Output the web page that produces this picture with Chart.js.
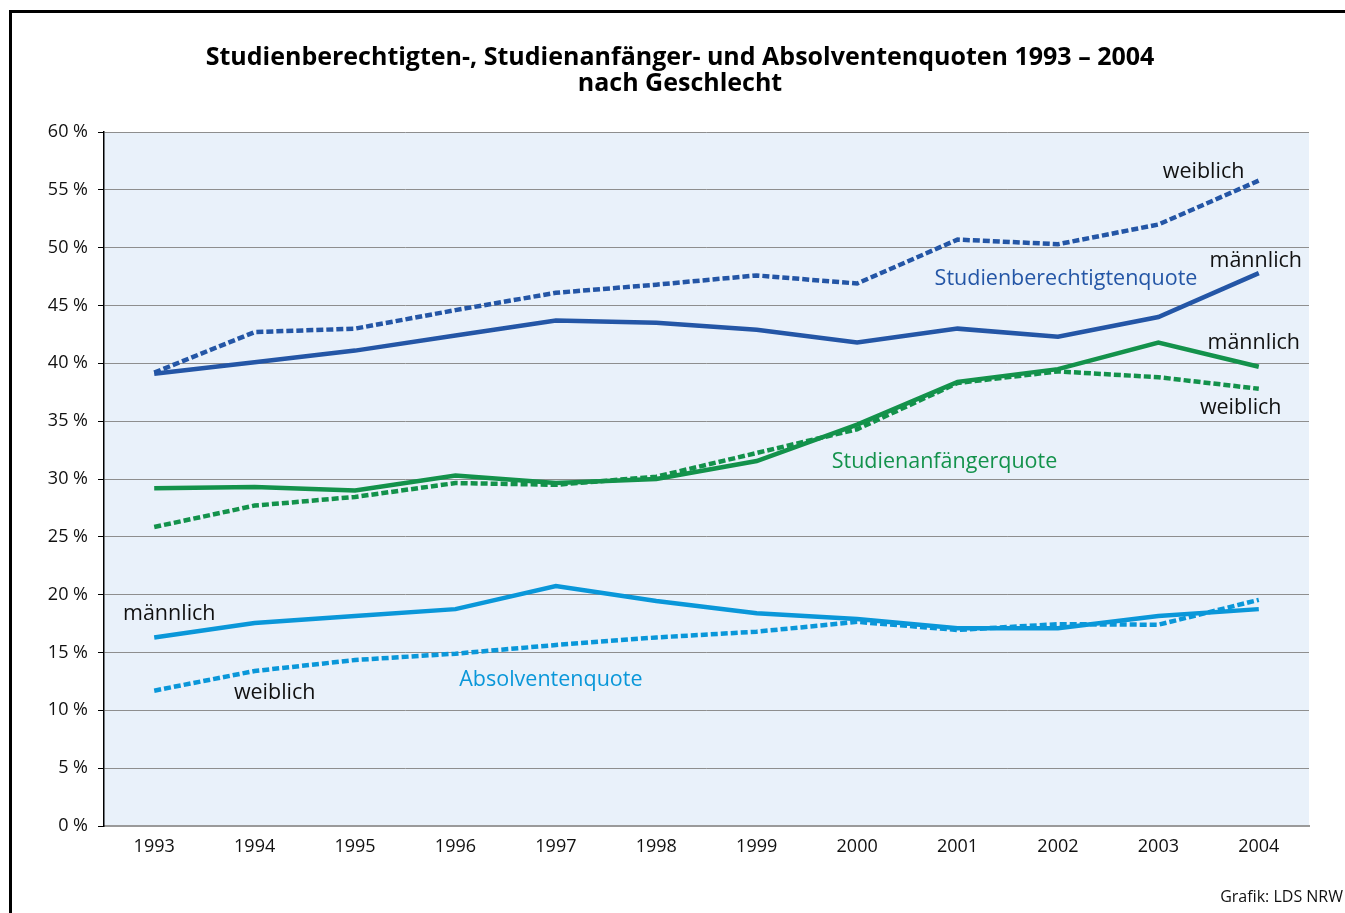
<!DOCTYPE html>
<html>
<head>
<meta charset="utf-8">
<script src="https://cdn.jsdelivr.net/npm/chart.js@4/dist/chart.umd.min.js"></script>
<style>
  html, body { margin: 0; padding: 0; background: #fff; }
  #wrap { position: relative; width: 1345px; height: 913px; }
</style>
</head>
<body>
<div id="wrap"><canvas id="chart" width="1345" height="913"></canvas></div>
<script>
const years = ['1993', '1994', '1995', '1996', '1997', '1998', '1999', '2000', '2001', '2002', '2003', '2004'];

// Studienberechtigtenquote
const berechtigtWeiblich = [39.2, 42.7, 43.0, 44.6, 46.1, 46.8, 47.6, 46.9, 50.7, 50.3, 52.0, 55.8];
const berechtigtMaennlich = [39.1, 40.1, 41.1, 42.4, 43.7, 43.5, 42.9, 41.8, 43.0, 42.3, 44.0, 47.8];

// Studienanfängerquote
const anfaengerMaennlich = [29.2, 29.3, 29.0, 30.3, 29.65, 30.0, 31.55, 34.7, 38.4, 39.5, 41.8, 39.7];
const anfaengerWeiblich = [25.85, 27.7, 28.45, 29.65, 29.5, 30.2, 32.25, 34.3, 38.3, 39.3, 38.8, 37.8];

// Absolventenquote
const absolventMaennlich = [16.3, 17.55, 18.15, 18.75, 20.75, 19.45, 18.4, 17.9, 17.1, 17.1, 18.15, 18.75];
const absolventWeiblich = [11.7, 13.4, 14.35, 14.9, 15.65, 16.3, 16.8, 17.65, 16.95, 17.45, 17.4, 19.55];

const DARK = '#2456a6';
const GREEN = '#13924b';
const LIGHT = '#0a97d9';
const FONT = '"Open Sans", "Noto Sans", sans-serif';

// text labels inside the plot (x = category index, y = value)
const plotLabels = [
    { text: 'weiblich', x: 10.45, y: 56.55, color: '#111' },
    { text: 'Studienberechtigtenquote', x: 9.08, y: 47.3, color: DARK },
    { text: 'männlich', x: 10.97, y: 48.85, color: '#111' },
    { text: 'männlich', x: 10.95, y: 41.75, color: '#111' },
    { text: 'weiblich', x: 10.82, y: 36.15, color: '#111' },
    { text: 'Studienanfängerquote', x: 7.87, y: 31.45, color: GREEN },
    { text: 'männlich', x: 0.15, y: 18.35, color: '#111' },
    { text: 'weiblich', x: 1.2, y: 11.5, color: '#111' },
    { text: 'Absolventenquote', x: 3.95, y: 12.6, color: LIGHT },
];

function line(label, data, color, dashed) {
    return {
        label: label,
        data: data,
        borderColor: color,
        backgroundColor: color,
        borderWidth: 4.5,
        borderDash: dashed ? [7, 3] : [],
        pointRadius: 0,
        tension: 0,
        fill: false
    };
}

const decor = {
    id: 'decor',
    beforeDraw(chart) {
        const { ctx, chartArea: a } = chart;
        ctx.save();
        ctx.fillStyle = '#e9f1fa';
        ctx.fillRect(a.left, a.top, a.right - a.left, a.bottom - a.top);
        ctx.restore();
    },
    afterDraw(chart) {
        const { ctx, scales: { x, y } } = chart;
        ctx.save();
        // frame
        ctx.strokeStyle = '#000';
        ctx.lineWidth = 3;
        ctx.strokeRect(10.5, 11.5, 1400, 1000);

        // title
        ctx.fillStyle = '#000';
        ctx.textAlign = 'center';
        ctx.textBaseline = 'middle';
        ctx.font = 'bold 25px ' + FONT;
        ctx.fillText('Studienberechtigten-, Studienanfänger- und Absolventenquoten 1993 – 2004', 680, 58);
        ctx.fillText('nach Geschlecht', 680, 84);

        // labels on the lines
        ctx.font = '21.5px ' + FONT;
        plotLabels.forEach(l => {
            ctx.fillStyle = l.color;
            ctx.fillText(l.text, x.getPixelForValue(l.x), y.getPixelForValue(l.y));
        });

        // source
        ctx.fillStyle = '#111';
        ctx.textAlign = 'right';
        ctx.font = '16px ' + FONT;
        ctx.fillText('Grafik: LDS NRW', 1343, 897);
        ctx.restore();
    }
};

new Chart(document.getElementById('chart'), {
    type: 'line',
    data: {
        labels: years,
        datasets: [
            line('Absolventenquote männlich', absolventMaennlich, LIGHT, false),
            line('Absolventenquote weiblich', absolventWeiblich, LIGHT, true),
            line('Studienanfängerquote männlich', anfaengerMaennlich, GREEN, false),
            line('Studienanfängerquote weiblich', anfaengerWeiblich, GREEN, true),
            line('Studienberechtigtenquote männlich', berechtigtMaennlich, DARK, false),
            line('Studienberechtigtenquote weiblich', berechtigtWeiblich, DARK, true),
        ]
    },
    options: {
        responsive: false,
        animation: false,
        layout: { padding: { top: 132, right: 36, bottom: 0, left: 0 } },
        plugins: {
            legend: { display: false },
            title: { display: false },
            tooltip: { enabled: false }
        },
        scales: {
            x: {
                offset: true,
                grid: { display: false },
                border: { display: true, color: '#9a9a9a', width: 2 },
                ticks: { color: '#111', font: { family: FONT, size: 18 }, padding: 2, maxRotation: 0 },
                afterFit: s => { s.height = 87; }
            },
            y: {
                min: 0,
                max: 60,
                ticks: {
                    stepSize: 5,
                    color: '#111',
                    padding: 10,
                    font: { family: FONT, size: 18 },
                    callback: v => v + ' %'
                },
                grid: { color: '#8e8e8e', lineWidth: 1, tickLength: 6, tickColor: '#000' },
                border: { color: '#000', width: 1.5 },
                afterFit: s => { s.width = 104; }
            }
        }
    },
    plugins: [decor]
});
</script>
</body>
</html>
